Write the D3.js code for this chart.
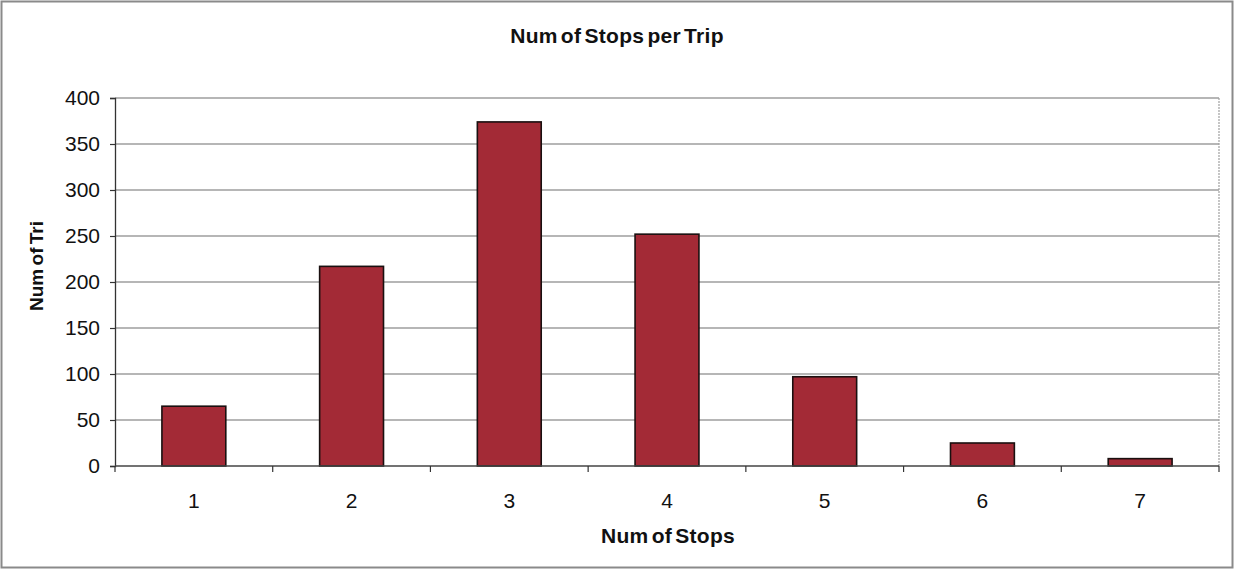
<!DOCTYPE html>
<html>
<head>
<meta charset="utf-8">
<script src="https://cdn.jsdelivr.net/npm/d3@7"></script>
<style>
  html, body { margin: 0; padding: 0; background: #fff; }
  svg { display: block; font-family: "Liberation Sans", Arial, sans-serif; }
</style>
</head>
<body>
<svg id="chart" width="1234" height="569"></svg>
<script>
// Trip counts by number of stops
const categories = ["1", "2", "3", "4", "5", "6", "7"];
const tripCounts = [65, 217, 374, 252, 97, 25, 8];
const yTicks = [0, 50, 100, 150, 200, 250, 300, 350, 400];

const titleText = "Num of Stops per Trip";
const xTitle = "Num of Stops";
const yTitle = "Num of Tri";

const W = 1234, H = 569;
const margin = { left: 115, right: 15, top: 98, bottom: 103 };
const plotW = W - margin.left - margin.right;
const plotH = H - margin.top - margin.bottom;

const svg = d3.select("#chart");

// outer chart frame
svg.append("rect")
  .attr("x", 1.5).attr("y", 1.5)
  .attr("width", W - 3).attr("height", H - 3)
  .attr("fill", "#fff").attr("stroke", "#8a8a8a").attr("stroke-width", 2);

const g = svg.append("g").attr("transform", `translate(${margin.left},${margin.top})`);

const x = d3.scaleBand().domain(categories).range([0, plotW]).paddingInner(0.595).paddingOuter(0.2975);
const xEdges = d3.scaleLinear().domain([0, categories.length]).range([0, plotW]);
const y = d3.scaleLinear().domain([0, 400]).range([plotH, 0]);

// horizontal gridlines
g.append("g").selectAll("line")
  .data(yTicks.filter(t => t > 0))
  .join("line")
  .attr("x1", 0).attr("x2", plotW)
  .attr("y1", d => y(d)).attr("y2", d => y(d))
  .attr("stroke", "#6e6e6e").attr("stroke-width", 1.2);

// right border of plot area
g.append("line")
  .attr("x1", plotW).attr("x2", plotW).attr("y1", 0).attr("y2", plotH)
  .attr("stroke", "#a0a0a0").attr("stroke-width", 1.2).attr("stroke-dasharray", "2,1");

// bars
g.append("g").selectAll("rect")
  .data(tripCounts)
  .join("rect")
  .attr("x", (d, i) => x(categories[i]))
  .attr("y", d => y(d))
  .attr("width", x.bandwidth())
  .attr("height", d => plotH - y(d))
  .attr("fill", "#a32a36")
  .attr("stroke", "#1a1010").attr("stroke-width", 1.6);

// y axis
const yAxis = g.append("g")
  .call(d3.axisLeft(y).tickValues(yTicks).tickSize(5).tickPadding(10).tickFormat(d3.format("d")));
yAxis.attr("font-size", null).attr("font-family", null);
yAxis.select(".domain").attr("stroke", "#333").attr("stroke-width", 1.3);
yAxis.selectAll(".tick line").attr("stroke", "#333").attr("stroke-width", 1.2);
yAxis.selectAll(".tick text")
  .style("font-size", "21px").attr("fill", "#111")
  .style("font-family", "Liberation Sans, Arial, sans-serif");

// x axis: ticks at category boundaries, labels centred on bars
const xAxisG = g.append("g").attr("transform", `translate(0,${plotH})`);
xAxisG.append("line")
  .attr("x1", 0).attr("x2", plotW).attr("y1", 0).attr("y2", 0)
  .attr("stroke", "#444").attr("stroke-width", 1.3);
xAxisG.selectAll("line.tk")
  .data(d3.range(categories.length + 1))
  .join("line").attr("class", "tk")
  .attr("x1", d => xEdges(d)).attr("x2", d => xEdges(d))
  .attr("y1", 0).attr("y2", 6)
  .attr("stroke", "#333").attr("stroke-width", 1.2);
xAxisG.selectAll("text")
  .data(categories)
  .join("text")
  .attr("x", d => x(d) + x.bandwidth() / 2)
  .attr("y", 42)
  .attr("text-anchor", "middle")
  .style("font-size", "21px").attr("fill", "#111")
  .text(d => d);

// titles
svg.append("text")
  .attr("x", 617).attr("y", 43)
  .attr("text-anchor", "middle")
  .style("font-size", "21px").attr("font-weight", "bold")
  .attr("letter-spacing", 0.3).attr("word-spacing", -3).attr("fill", "#111")
  .text(titleText);

svg.append("text")
  .attr("x", 668).attr("y", 543)
  .attr("text-anchor", "middle")
  .style("font-size", "21px").attr("font-weight", "bold")
  .attr("letter-spacing", 0.3).attr("word-spacing", -3).attr("fill", "#111")
  .text(xTitle);

svg.append("text")
  .attr("transform", "translate(43,266) rotate(-90)")
  .attr("text-anchor", "middle")
  .style("font-size", "19px").attr("font-weight", "bold")
  .attr("letter-spacing", 0).attr("word-spacing", -2).attr("fill", "#111")
  .text(yTitle);
</script>
</body>
</html>
